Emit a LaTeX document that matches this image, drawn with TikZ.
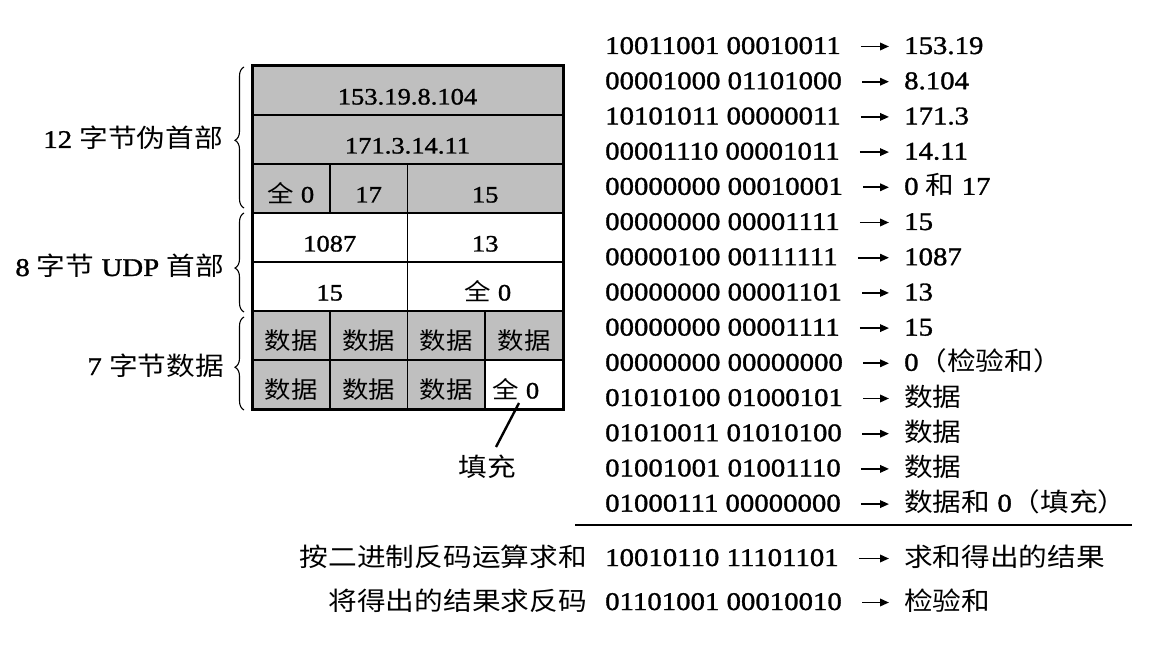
\documentclass[tikz,border=0pt]{standalone}
\usepackage{fontspec}
\setmainfont{Liberation Serif}[FakeStretch=1.13, FakeBold=1.2]
\newfontfamily\cjkf{Noto Sans CJK SC}[FakeStretch=1.125]
\newcommand\zh[1]{{\cjkf #1}}
\usetikzlibrary{arrows.meta,decorations.pathreplacing}

\begin{document}
\begin{tikzpicture}[x=1pt,y=-1pt,
  every node/.style={inner sep=0pt, font=\fontsize{25.5}{30}\selectfont},
  cell/.style={anchor=base, font=\fontsize{23.5}{28}\selectfont},
  shaded/.style={fill=black!25},
  gridline/.style={line width=1.8pt},
  frame/.style={line width=3pt},
  bin/.style={anchor=base west},
  res/.style={anchor=base west},
  lab/.style={anchor=base east},
  arr/.style={-{Triangle[length=9pt,width=7.5pt]}, line width=1.8pt,
              shorten <=20pt, shorten >=15pt},
  brc/.style={decorate, decoration={brace, amplitude=9pt, aspect=#1}, line width=1.1pt},
  lead/.style={line width=2.4pt}
]
\useasboundingbox (0,0) rectangle (1164,668);

% ---------- packet layout ----------
\fill[shaded] (252,66) rectangle (563,213);
\fill[shaded] (252,311) rectangle (563,409);
\fill[white] (485.25,360) rectangle (563,409);

\foreach \yy in {115,164,213,262,311,360}
  \draw[gridline] (252,\yy) -- (563,\yy);
\draw[gridline] (329.75,164) -- (329.75,213);
\draw[gridline] (329.75,311) -- (329.75,409);
\draw[gridline] (407.5,164) -- (407.5,409);
\draw[gridline] (485.25,311) -- (485.25,409);
\draw[frame] (252,66) rectangle (563,409);

% pseudo header
\node[cell] (srcip) at (407.5,104.5) {153.19.8.104};
\node[cell] (dstip) at (407.5,153.5) {171.3.14.11};
\node[cell] (zero)  at (291,202.5) {\zh{全} 0};
\node[cell] (proto) at (368.6,202.5) {17};
\node[cell] (ulen)  at (485.25,202.5) {15};
% UDP header
\node[cell] (sport) at (329.75,251.5) {1087};
\node[cell] (dport) at (485.25,251.5) {13};
\node[cell] (len)   at (329.75,300.5) {15};
\node[cell] (csum)  at (488,300.5) {\zh{全} 0};
% data
\node[cell] (d1) at (291,349.5) {\zh{数据}};
\node[cell] (d2) at (368.6,349.5) {\zh{数据}};
\node[cell] (d3) at (446.4,349.5) {\zh{数据}};
\node[cell] (d4) at (524.1,349.5) {\zh{数据}};
\node[cell] (d5) at (291,398.5) {\zh{数据}};
\node[cell] (d6) at (368.6,398.5) {\zh{数据}};
\node[cell] (d7) at (446.4,398.5) {\zh{数据}};
\node[cell] (pad) at (516,398.5) {\zh{全} 0};

% padding note
\node[anchor=base] (padnote) at (487,476) {\zh{填充}};
\coordinate (padtip) at (519,403);
\coordinate (noteend) at (496,447);
\draw[lead] (padtip) -- (noteend);

% braces and their labels
\draw[brc=0.48]  (244,208) -- (244,67);
\draw[brc=0.444] (244,312) -- (244,213);
\draw[brc=0.46]  (244,410) -- (244,317);
\node[lab] (l12) at (223,148) {12 \zh{字节伪首部}};
\node[lab] (l8)  at (224,276) {8 \zh{字节} UDP \zh{首部}};
\node[lab] (l7)  at (224,375) {7 \zh{字节数据}};

% ---------- 16-bit words ----------
\foreach \k/\word/\val in {
   1/10011001 00010011/153.19,
   2/00001000 01101000/8.104,
   3/10101011 00000011/171.3,
   4/00001110 00001011/14.11,
   5/00000000 00010001/0 \zh{和} 17,
   6/00000000 00001111/15,
   7/00000100 00111111/1087,
   8/00000000 00001101/13,
   9/00000000 00001111/15,
  10/00000000 00000000/0\zh{（检验和）},
  11/01010100 01000101/\zh{数据},
  12/01010011 01010100/\zh{数据},
  13/01001001 01001110/\zh{数据},
  14/01000111 00000000/\zh{数据和} 0\zh{（填充）}}
{
  \pgfmathsetmacro\bl{54+35.2*(\k-1)}
  \node[bin] (w\k) at (605,\bl) {\word};
  \node[res] (v\k) at (904,\bl) {\val};
  \draw[arr] ([yshift=7.5pt]w\k.base east) -- ([yshift=7.5pt]v\k.base west);
}

\draw[line width=2pt] (575,525) -- (1132,525);

% sum and complement
\node[lab] (sumlab) at (587,566) {\zh{按二进制反码运算求和}};
\node[bin] (wsum) at (605,566) {10010110 11101101};
\node[res] (vsum) at (904,566) {\zh{求和得出的结果}};
\draw[arr] ([yshift=7.5pt]wsum.base east) -- ([yshift=7.5pt]vsum.base west);

\node[lab] (cmplab) at (587,610) {\zh{将得出的结果求反码}};
\node[bin] (wcmp) at (605,610) {01101001 00010010};
\node[res] (vcmp) at (904,610) {\zh{检验和}};
\draw[arr] ([yshift=7.5pt]wcmp.base east) -- ([yshift=7.5pt]vcmp.base west);

\end{tikzpicture}
\end{document}
